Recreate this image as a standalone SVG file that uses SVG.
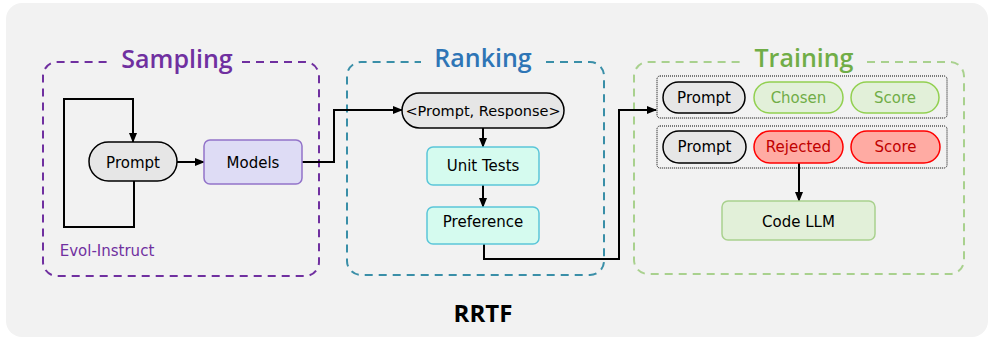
<svg xmlns="http://www.w3.org/2000/svg" width="989" height="341" viewBox="0 0 989 341">
<defs>
<marker id="ah" markerUnits="userSpaceOnUse" markerWidth="10" markerHeight="8" refX="9" refY="4" orient="auto">
<path d="M0,0 L10,4 L0,8 z" fill="#000"/>
</marker>
<style>
text{font-family:"DejaVu Sans","Liberation Sans",sans-serif;font-size:15px;text-anchor:middle;fill:#000}
.title{font-family:"Open Sans","DejaVu Sans",sans-serif;font-size:25px;font-weight:600}
.grp{fill:none;stroke-width:2;stroke-dasharray:8 6}
.con{fill:none;stroke:#000;stroke-width:2}
.arr{marker-end:url(#ah)}
.gray{fill:#e6e6e6;stroke:#000;stroke-width:1.5}
.grn{fill:#e2f0d9;stroke:#92d050;stroke-width:1.5}
.red{fill:#ffaba3;stroke:#ff0000;stroke-width:1.5}
.mint{fill:#d5fbef;stroke:#5bc6d9;stroke-width:1.5}
.dot{fill:none;stroke:#000;stroke-width:1;stroke-dasharray:1 1}
</style>
</defs>
<rect x="6" y="3" width="982" height="334" rx="16" fill="#f2f2f2"/>

<g id="sampling">
<path class="grp" stroke="#7030a0" d="M242 62 H305 A14 14 0 0 1 319 76 V262 A14 14 0 0 1 305 276 H57 A14 14 0 0 1 43 262 V76 A14 14 0 0 1 57 62 H112"/>
<text class="title" x="177" y="68" style="fill:#7030a0">Sampling</text>
<text x="107" y="256" style="fill:#7030a0">Evol-Instruct</text>
</g>
<g id="ranking">
<path class="grp" stroke="#3a8fa8" d="M546 62 H590 A14 14 0 0 1 604 76 V261 A14 14 0 0 1 590 275 H361 A14 14 0 0 1 347 261 V76 A14 14 0 0 1 361 62 H421"/>
<text class="title" x="483" y="67" style="fill:#2e75b6">Ranking</text>
</g>
<g id="training">
<path class="grp" stroke="#a9d18e" d="M867 62 H950 A14 14 0 0 1 964 76 V260 A14 14 0 0 1 950 274 H648 A14 14 0 0 1 634 260 V76 A14 14 0 0 1 648 62 H741"/>
<text class="title" x="804" y="67" style="fill:#70ad47">Training</text>
</g>

<g id="connectors">
<path class="con arr" d="M134 181 V227 H64 V99 H133 V142"/>
<path class="con arr" d="M177 162 H204"/>
<path class="con arr" d="M302 162 H334 V110 H402"/>
<path class="con arr" d="M483 128 V147"/>
<path class="con arr" d="M483 185 V207"/>
<path class="con arr" d="M484 244 V259 H619 V110 H656"/>
<path class="con arr" d="M799 163 V201"/>
</g>

<g id="prompt">
<rect class="gray" x="89" y="142" width="88" height="39" rx="19.5"/>
<text x="133" y="167.5">Prompt</text>
</g>
<g id="models">
<rect x="204" y="140" width="98" height="44" rx="6" fill="#dedcf5" stroke="#9273c9" stroke-width="1.5"/>
<text x="253" y="167.5">Models</text>
</g>
<g id="pair">
<rect class="gray" x="402" y="93" width="162" height="35" rx="17.5"/>
<text x="483" y="116" style="font-size:14.5px">&lt;Prompt, Response&gt;</text>
</g>
<g id="unit-tests">
<rect class="mint" x="427" y="147" width="112" height="38" rx="6"/>
<text x="483" y="171">Unit Tests</text>
</g>
<g id="preference">
<rect class="mint" x="427" y="207" width="112" height="37" rx="6"/>
<text x="483" y="227">Preference</text>
</g>

<g id="chosen-row">
<rect class="dot" x="657" y="76" width="290" height="42" rx="3"/>
<rect class="gray" x="663" y="82" width="82" height="31" rx="15.5"/>
<text x="704" y="103">Prompt</text>
<rect class="grn" x="754" y="82" width="89" height="31" rx="15.5"/>
<text x="798.5" y="103" style="fill:#70ad47">Chosen</text>
<rect class="grn" x="851" y="82" width="88" height="31" rx="15.5"/>
<text x="895" y="103" style="fill:#70ad47">Score</text>
</g>
<g id="rejected-row">
<rect class="dot" x="657" y="126" width="290" height="42" rx="3"/>
<rect class="gray" x="663" y="131" width="83" height="32" rx="16"/>
<text x="704.5" y="152">Prompt</text>
<rect class="red" x="754" y="131" width="89" height="32" rx="16"/>
<text x="798.5" y="152" style="fill:#c00000">Rejected</text>
<rect class="red" x="851" y="131" width="89" height="32" rx="16"/>
<text x="895.5" y="152" style="fill:#c00000">Score</text>
</g>
<g id="code-llm">
<rect class="grn" x="722" y="201" width="153" height="39" rx="6" style="stroke:#a9d18e"/>
<text x="798.5" y="226.5">Code LLM</text>
</g>

<text x="483" y="322" style="font-family:'Open Sans','DejaVu Sans',sans-serif;font-size:24px;font-weight:700">RRTF</text>
</svg>
